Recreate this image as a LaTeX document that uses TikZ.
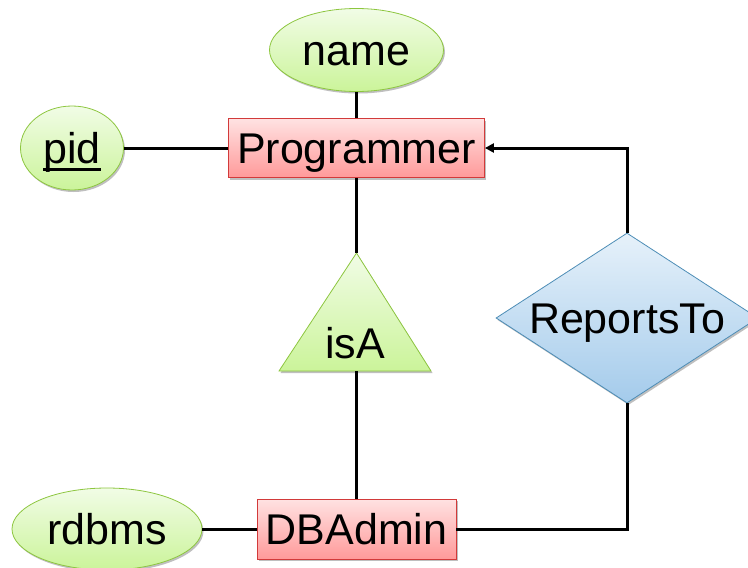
\documentclass[tikz,border=0pt]{standalone}
\usepackage{fontspec}
\setmainfont{Liberation Sans}
\usetikzlibrary{shapes.geometric,shadows,arrows.meta}
% underline for key attributes, thicker than \underline
\newsavebox{\keybox}
\newcommand\keyuline[1]{\sbox{\keybox}{#1}\rlap{\rule[-7.5pt]{\wd\keybox}{2.4pt}}\usebox{\keybox}}
\definecolor{attrtop}{HTML}{F1FCE6}
\definecolor{attrbot}{HTML}{CBF49A}
\definecolor{attredge}{HTML}{8DC63F}
\definecolor{enttop}{HTML}{FFE2E2}
\definecolor{entbot}{HTML}{FF9A9A}
\definecolor{entedge}{HTML}{D23A3A}
\definecolor{reltop}{HTML}{E6F1FA}
\definecolor{relbot}{HTML}{A4CBEB}
\definecolor{reledge}{HTML}{4D8DB6}
\tikzset{
  lbl/.style={font=\fontsize{43}{50}\selectfont, text height=35pt, text depth=5pt},
  softshadow/.style={drop shadow={shadow xshift=1.5pt, shadow yshift=-2pt, opacity=0.25, fill=black}},
  attr/.style={ellipse, draw=attredge, line width=0.8pt, top color=attrtop, bottom color=attrbot,
    inner sep=0pt, softshadow, lbl},
  entity/.style={rectangle, draw=entedge, line width=0.8pt, top color=enttop, bottom color=entbot,
    inner sep=0pt, softshadow, lbl},
  rel/.style={diamond, draw=reledge, line width=0.8pt, top color=reltop, bottom color=relbot,
    inner sep=0pt, softshadow},
  isashape/.style={draw=attredge, line width=0.8pt, top color=attrtop, bottom color=attrbot, softshadow},
  conn/.style={line width=3pt, black},
}
\begin{document}
\begin{tikzpicture}[x=1pt, y=-1pt]
\useasboundingbox (0,0) rectangle (748,568);

% attributes
\node[attr, minimum width=174pt, minimum height=83pt] (name) at (356.5,50) {name};
\node[attr, minimum width=103pt, minimum height=84pt] (pid) at (72,148) {\keyuline{pid}};
\node[attr, minimum width=190pt, minimum height=82pt] (rdbms) at (107,529) {rdbms};

% entities
\node[entity, minimum width=256pt, minimum height=59pt] (prog) at (356.5,148) {Programmer};
\node[entity, minimum width=199pt, minimum height=60pt] (dba) at (356.5,529) {DBAdmin};

% relationship
\node[rel, minimum width=262pt, minimum height=170pt] (rt) at (627,318) {};
\node[lbl] (rtlabel) at (627,318) {ReportsTo};

% isA triangle
\coordinate (isatop) at (356.5,253);
\coordinate (isaleft) at (279,371);
\coordinate (isaright) at (431,371);
\coordinate (isabot) at (356.5,371);
\path[isashape] (isatop) -- (isaright) -- (isaleft) -- cycle;
\node[lbl] (isa) at (355,343) {isA};

% connectors
\draw[conn] (name) -- (prog);
\draw[conn] (pid) -- (prog);
\draw[conn] (prog) -- (isatop);
\draw[conn] (isabot) -- (dba);
\draw[conn] (rdbms) -- (dba);
\draw[conn, -{Triangle[length=9pt, width=9pt]}] (rt.north) |- (prog.east);
\draw[conn] (dba.east) -| (rt.south);
\end{tikzpicture}
\end{document}
